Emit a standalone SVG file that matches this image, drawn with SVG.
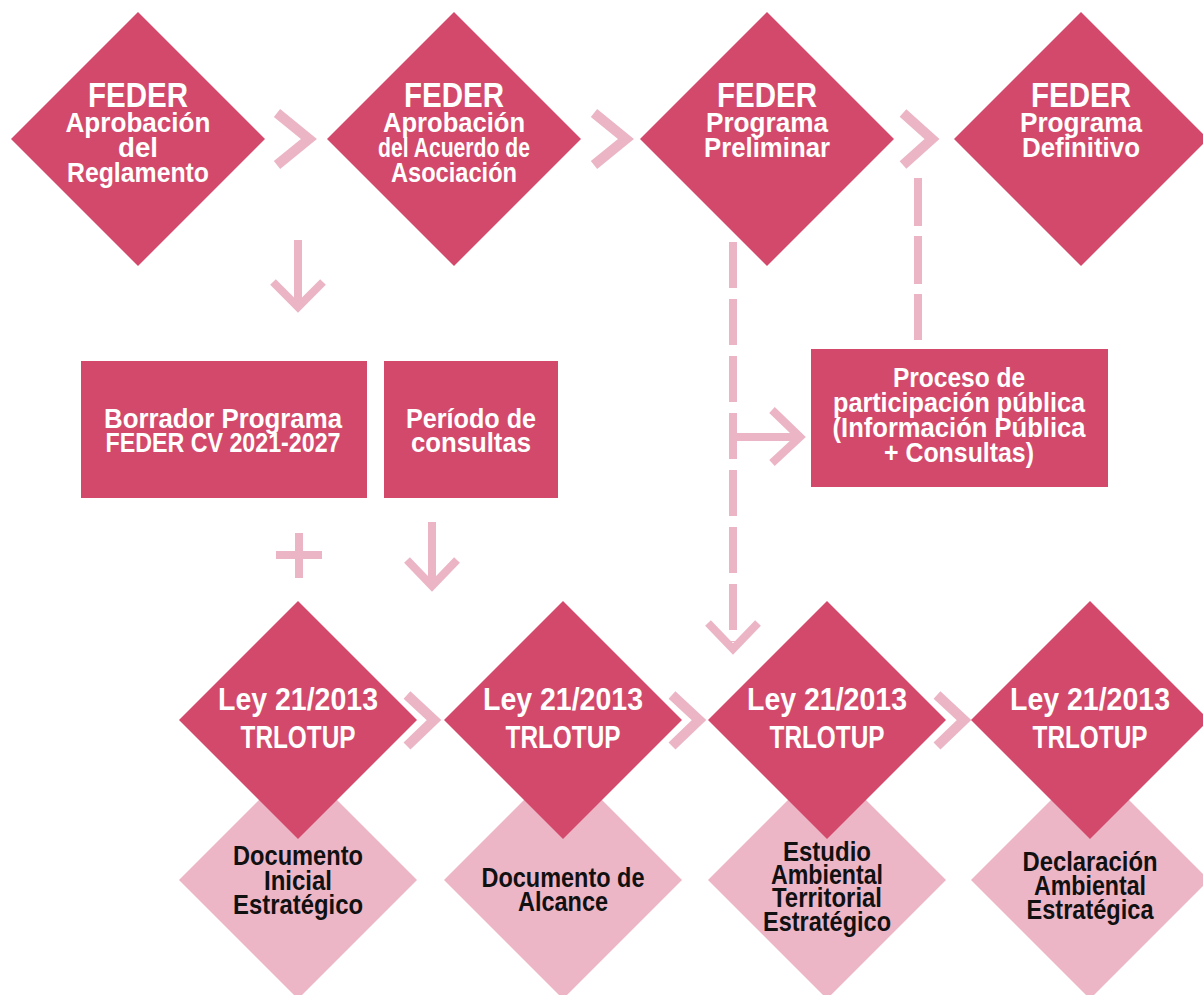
<svg xmlns="http://www.w3.org/2000/svg" width="1203" height="995" viewBox="0 0 1203 995">
<style>
.dk{fill:#D3496B}
.lt{fill:#EDB6C6}
.ln{fill:none;stroke:#EBB5C5;stroke-width:10;stroke-linejoin:miter;stroke-linecap:butt}
.ln8{fill:none;stroke:#EBB5C5;stroke-width:8}
.dash{fill:none;stroke:#EBB5C5;stroke-width:8}
text{font-family:'Liberation Sans',Arial,sans-serif;font-weight:bold;text-anchor:middle}
.w{fill:#FFFFFF}
.b{fill:#111111}
.t1{font-size:35px}
.t2{font-size:28px}
.t3{font-size:28px}
.t3b{font-size:27px}
.t4{font-size:31px}
.t4b{font-size:32px}
.t5{font-size:27px}
</style>
<rect width="1203" height="995" fill="#FFFFFF"/>
<g id="connectors">
<polyline class="ln" points="277,113 309,139 277,165"/>
<polyline class="ln" points="594,113 626,139 594,165"/>
<polyline class="ln" points="903,113 932,139 903,165"/>
<line class="ln8" x1="298" y1="240" x2="298" y2="302"/>
<polyline class="ln8" points="273,282 298,307 323,282"/>
<line class="dash" x1="733" y1="242" x2="733" y2="642" stroke-dasharray="46 11"/>
<polyline class="ln8" points="708,623 733,649 758,623"/>
<line class="ln8" x1="735" y1="437" x2="800" y2="437"/>
<polyline class="ln8" points="772,410 800,437 772,463"/>
<line class="dash" x1="918" y1="178" x2="918" y2="340" stroke-dasharray="48 10"/>
<line class="ln8" x1="276" y1="555" x2="322" y2="555"/>
<line class="ln8" x1="299" y1="533" x2="299" y2="578"/>
<line class="ln8" x1="432" y1="522" x2="432" y2="584"/>
<polyline class="ln8" points="407,560 432,586 457,560"/>
<polyline class="ln" points="407,695 434,720 407,746"/>
<polyline class="ln" points="672,695 699,720 672,746"/>
<polyline class="ln" points="937,695 964,720 937,746"/>
</g>
<g id="feder1">
<polygon class="dk" points="138,12 265,139 138,266 11,139"/>
<text class="w t1" x="138" y="107" textLength="100" lengthAdjust="spacingAndGlyphs">FEDER</text>
<text class="w t2" x="138" y="132" textLength="145" lengthAdjust="spacingAndGlyphs">Aprobación</text>
<text class="w t2" x="138" y="157" textLength="40" lengthAdjust="spacingAndGlyphs">del</text>
<text class="w t2" x="138" y="182" textLength="142" lengthAdjust="spacingAndGlyphs">Reglamento</text>
</g>
<g id="feder2">
<polygon class="dk" points="454,12 581,139 454,266 327,139"/>
<text class="w t1" x="454" y="107" textLength="100" lengthAdjust="spacingAndGlyphs">FEDER</text>
<text class="w t2" x="454" y="132" textLength="142" lengthAdjust="spacingAndGlyphs">Aprobación</text>
<text class="w t2" x="454" y="157" textLength="152" lengthAdjust="spacingAndGlyphs">del Acuerdo de</text>
<text class="w t2" x="454" y="182" textLength="126" lengthAdjust="spacingAndGlyphs">Asociación</text>
</g>
<g id="feder3">
<polygon class="dk" points="767,12 894,139 767,266 640,139"/>
<text class="w t1" x="767" y="107" textLength="100" lengthAdjust="spacingAndGlyphs">FEDER</text>
<text class="w t2" x="767" y="132" textLength="122" lengthAdjust="spacingAndGlyphs">Programa</text>
<text class="w t2" x="767" y="157" textLength="126" lengthAdjust="spacingAndGlyphs">Preliminar</text>
</g>
<g id="feder4">
<polygon class="dk" points="1081,12 1208,139 1081,266 954,139"/>
<text class="w t1" x="1081" y="107" textLength="100" lengthAdjust="spacingAndGlyphs">FEDER</text>
<text class="w t2" x="1081" y="132" textLength="122" lengthAdjust="spacingAndGlyphs">Programa</text>
<text class="w t2" x="1081" y="157" textLength="118" lengthAdjust="spacingAndGlyphs">Definitivo</text>
</g>
<g id="borrador">
<rect class="dk" x="81" y="361" width="286" height="137"/>
<text class="w t3" x="223" y="428" textLength="238" lengthAdjust="spacingAndGlyphs">Borrador Programa</text>
<text class="w t3" x="223" y="452" textLength="235" lengthAdjust="spacingAndGlyphs">FEDER CV 2021-2027</text>
</g>
<g id="consultas">
<rect class="dk" x="384" y="361" width="174" height="137"/>
<text class="w t3" x="471" y="428" textLength="130" lengthAdjust="spacingAndGlyphs">Período de</text>
<text class="w t3" x="471" y="452" textLength="120" lengthAdjust="spacingAndGlyphs">consultas</text>
</g>
<g id="participacion">
<rect class="dk" x="811" y="349" width="297" height="138"/>
<text class="w t3b" x="959" y="387" textLength="132" lengthAdjust="spacingAndGlyphs">Proceso de</text>
<text class="w t3b" x="959" y="412" textLength="252" lengthAdjust="spacingAndGlyphs">participación pública</text>
<text class="w t3b" x="959" y="437" textLength="253" lengthAdjust="spacingAndGlyphs">(Información Pública</text>
<text class="w t3b" x="959" y="462" textLength="150" lengthAdjust="spacingAndGlyphs">+ Consultas)</text>
</g>
<g id="doc1">
<polygon class="lt" points="298,761 417,880 298,999 179,880"/>
<polygon class="dk" points="298,601 417,720 298,839 179,720"/>
<text class="w t4" x="298" y="710" textLength="160" lengthAdjust="spacingAndGlyphs">Ley 21/2013</text>
<text class="w t4b" x="298" y="748" textLength="115" lengthAdjust="spacingAndGlyphs">TRLOTUP</text>
<text class="b t5" x="298" y="865" textLength="130" lengthAdjust="spacingAndGlyphs">Documento</text>
<text class="b t5" x="298" y="890" textLength="68" lengthAdjust="spacingAndGlyphs">Inicial</text>
<text class="b t5" x="298" y="914" textLength="130" lengthAdjust="spacingAndGlyphs">Estratégico</text>
</g>
<g id="doc2">
<polygon class="lt" points="563,761 682,880 563,999 444,880"/>
<polygon class="dk" points="563,601 682,720 563,839 444,720"/>
<text class="w t4" x="563" y="710" textLength="160" lengthAdjust="spacingAndGlyphs">Ley 21/2013</text>
<text class="w t4b" x="563" y="748" textLength="115" lengthAdjust="spacingAndGlyphs">TRLOTUP</text>
<text class="b t5" x="563" y="887" textLength="163" lengthAdjust="spacingAndGlyphs">Documento de</text>
<text class="b t5" x="563" y="911" textLength="90" lengthAdjust="spacingAndGlyphs">Alcance</text>
</g>
<g id="doc3">
<polygon class="lt" points="827,761 946,880 827,999 708,880"/>
<polygon class="dk" points="827,601 946,720 827,839 708,720"/>
<text class="w t4" x="827" y="710" textLength="160" lengthAdjust="spacingAndGlyphs">Ley 21/2013</text>
<text class="w t4b" x="827" y="748" textLength="115" lengthAdjust="spacingAndGlyphs">TRLOTUP</text>
<text class="b t5" x="827" y="861" textLength="88" lengthAdjust="spacingAndGlyphs">Estudio</text>
<text class="b t5" x="827" y="884" textLength="112" lengthAdjust="spacingAndGlyphs">Ambiental</text>
<text class="b t5" x="827" y="907" textLength="110" lengthAdjust="spacingAndGlyphs">Territorial</text>
<text class="b t5" x="827" y="931" textLength="128" lengthAdjust="spacingAndGlyphs">Estratégico</text>
</g>
<g id="doc4">
<polygon class="lt" points="1090,761 1209,880 1090,999 971,880"/>
<polygon class="dk" points="1090,601 1209,720 1090,839 971,720"/>
<text class="w t4" x="1090" y="710" textLength="160" lengthAdjust="spacingAndGlyphs">Ley 21/2013</text>
<text class="w t4b" x="1090" y="748" textLength="115" lengthAdjust="spacingAndGlyphs">TRLOTUP</text>
<text class="b t5" x="1090" y="871" textLength="135" lengthAdjust="spacingAndGlyphs">Declaración</text>
<text class="b t5" x="1090" y="895" textLength="112" lengthAdjust="spacingAndGlyphs">Ambiental</text>
<text class="b t5" x="1090" y="919" textLength="127" lengthAdjust="spacingAndGlyphs">Estratégica</text>
</g>
</svg>
